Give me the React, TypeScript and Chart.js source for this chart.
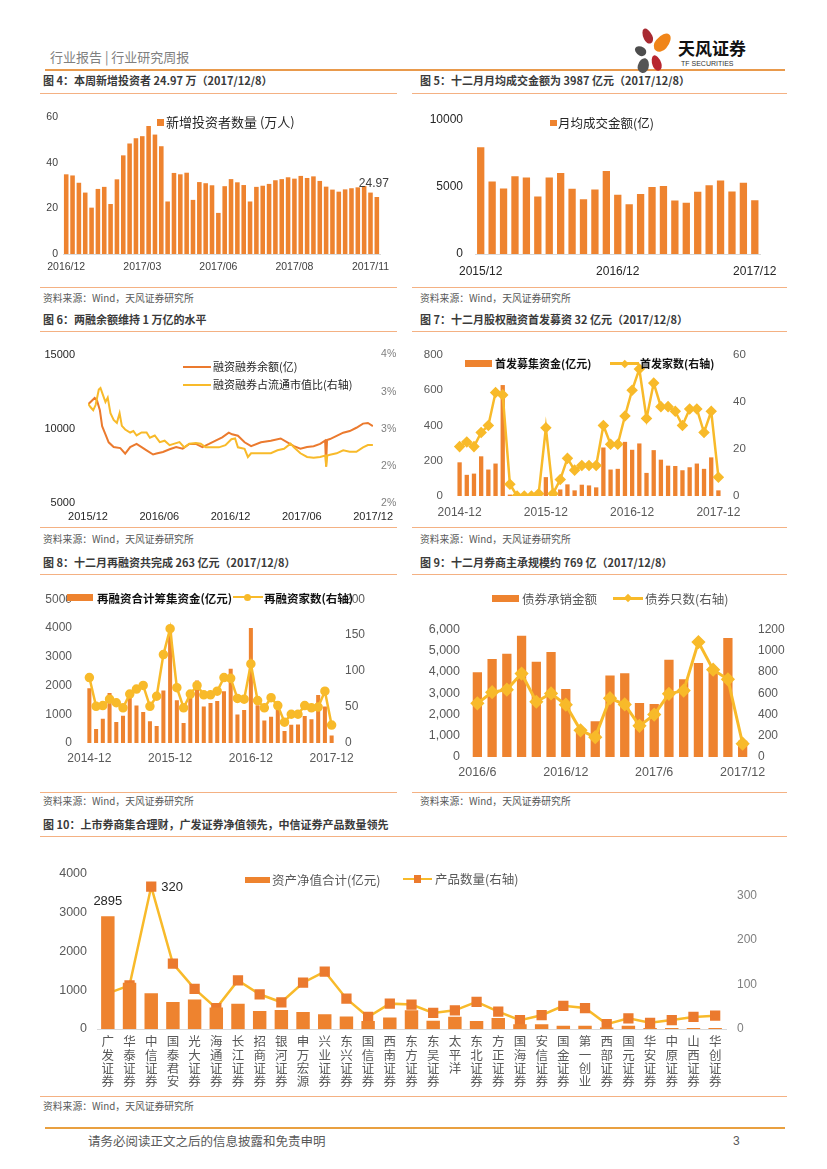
import React, { useEffect, useRef } from 'react';
import { Chart, registerables } from 'chart.js';
Chart.register(...registerables);

const CJK = '"Noto Sans CJK SC", "Noto Sans", sans-serif';
const NUM = '"Liberation Sans", Arial, sans-serif';
const ORANGE = '#EE832F';
const GOLD = '#F8BA2A';
const LINE_OR = '#EB7A2E';
const AXIS = '#D9D9D9';

// ---------------- 图4 本周新增投资者（万人）
const c4Values = [34.9, 34.4, 31.2, 26.9, 20.3, 28.5, 29.4, 21.9, 32.7, 43.2, 48.4, 50.7, 51.6, 56.1, 52.3, 47.2, 23.0, 35.5, 34.9, 35.6, 23.7, 31.5, 31.0, 30.1, 18.0, 29.7, 32.8, 31.4, 30.2, 23.0, 29.4, 29.9, 30.7, 32.3, 32.8, 33.6, 33.0, 34.2, 33.3, 34.0, 32.0, 29.5, 28.2, 27.3, 28.3, 28.8, 29.2, 29.8, 26.9, 24.97];
const c4TickIdx = [0, 12, 24, 36, 48];
const c4TickLabels = ['2016/12', '2017/03', '2017/06', '2017/08', '2017/11'];
const c4YTicks = [0, 20, 40, 60];

// ---------------- 图5 月均成交金额（亿）
const c5Values = [7919, 5383, 4856, 5766, 5670, 4258, 5670, 6005, 4833, 4067, 4785, 6148, 4402, 3684, 4450, 4976, 5048, 3971, 3804, 4617, 5096, 5455, 4641, 5287, 3987];
const c5TickIdx = [0, 12, 24];
const c5TickLabels = ['2015/12', '2016/12', '2017/12'];
const c5YTicks = [0, 5000, 10000];

// ---------------- 图6 两融余额 [月序, 值]
const c6Balance = [[0, 11640], [0.56, 12080], [0.76, 11900], [1.0, 11250], [1.19, 10180], [1.47, 9630], [1.74, 9090], [2.16, 8770], [2.72, 8700], [3.13, 8330], [3.55, 8770], [4.09, 8980], [4.51, 8770], [4.93, 8550], [5.48, 8270], [5.76, 8330], [6.31, 8440], [6.87, 8620], [7.42, 8770], [7.97, 8660], [8.53, 8980], [9.08, 8980], [9.63, 8770], [10.19, 8980], [10.74, 9200], [11.3, 9420], [11.85, 9740], [12.13, 9630], [12.62, 9530], [13.18, 9090], [13.73, 8830], [14.56, 9090], [15.39, 9200], [16.22, 9350], [16.78, 9090], [17.33, 8830], [17.88, 8660], [18.44, 8770], [18.99, 8830], [19.54, 8980], [19.96, 9200], [20.04, 7470], [20.12, 9250], [20.37, 9310], [20.93, 9530], [21.48, 9740], [22.03, 9850], [22.59, 10070], [23.15, 10350], [23.56, 10390], [23.98, 10180]];
const c6Ratio = [[0, 2.94], [0.22, 2.89], [0.44, 2.85], [0.64, 2.92], [0.91, 3.13], [1.05, 3.15], [1.27, 3.05], [1.47, 2.96], [1.66, 3.02], [1.89, 2.81], [2.16, 2.72], [2.43, 2.68], [2.66, 2.81], [2.85, 2.64], [3.13, 2.59], [3.55, 2.55], [3.82, 2.57], [4.09, 2.51], [4.51, 2.55], [4.93, 2.55], [5.21, 2.48], [5.62, 2.51], [6.04, 2.42], [6.45, 2.44], [6.87, 2.38], [7.28, 2.4], [7.7, 2.42], [8.11, 2.35], [8.53, 2.4], [9.08, 2.41], [9.49, 2.4], [9.91, 2.35], [10.47, 2.35], [11.02, 2.35], [11.57, 2.38], [12.07, 2.46], [12.38, 2.47], [12.62, 2.35], [13.18, 2.33], [13.46, 2.22], [13.73, 2.27], [14.56, 2.27], [15.39, 2.27], [15.95, 2.31], [16.5, 2.33], [17.05, 2.4], [17.33, 2.35], [17.88, 2.27], [18.44, 2.22], [18.99, 2.21], [19.54, 2.22], [19.98, 2.24], [20.05, 2.09], [20.14, 2.24], [20.37, 2.25], [20.93, 2.27], [21.48, 2.31], [22.03, 2.29], [22.59, 2.29], [23.15, 2.35], [23.56, 2.38], [23.98, 2.38]];
const c6XTicks = [0, 6, 12, 18, 24];
const c6XTickLabels = ['2015/12', '2016/06', '2016/12', '2017/06', '2017/12'];
const c6LeftTicks = [5000, 10000, 15000];
const c6RightTicks = [1.6, 2.1, 2.6, 3.1, 3.6];
const c6RightTickLabels = ['2%', '2%', '3%', '3%', '4%'];

// ---------------- 图7 首发募集资金 / 首发家数
const c7Amount = [191, 120, 127, 225, 150, 184, 629, 8, 0, 0, 0, 0, 107, 2, 37, 66, 32, 64, 60, 49, 275, 150, 154, 307, 262, 298, 131, 260, 206, 172, 170, 146, 163, 184, 154, 219, 32];
const c7Count = [21, 23, 21, 27, 30, 44, 43, 5, 0, 0, 0, 1, 29, 1, 7, 16, 11, 13, 13, 13, 30, 22, 22, 34, 45, 54, 33, 48, 38, 38, 36, 30, 37, 37, 27, 36, 8];
const c7TickIdx = [0, 12, 24, 36];
const c7TickLabels = ['2014-12', '2015-12', '2016-12', '2017-12'];
const c7LeftTicks = [0, 200, 400, 600, 800];
const c7RightTicks = [0, 20, 40, 60];

// ---------------- 图8 再融资
const c8Amount = [1903, 484, 839, 1742, 731, 946, 1667, 1301, 1075, 753, 591, 1828, 4011, 1484, 699, 1667, 2172, 1269, 1387, 1462, 1796, 2581, 989, 1151, 4000, 1312, 785, 914, 1237, 419, 634, 645, 935, 828, 1667, 1269, 263];
const c8Count = [91, 51, 52, 61, 56, 49, 68, 75, 80, 51, 65, 123, 159, 77, 49, 68, 80, 67, 67, 72, 91, 90, 62, 61, 110, 59, 49, 63, 52, 29, 40, 40, 52, 49, 50, 72, 25];
const c8TickIdx = [0, 12, 24, 36];
const c8TickLabels = ['2014-12', '2015-12', '2016-12', '2017-12'];
const c8LeftTicks = [0, 1000, 2000, 3000, 4000, 5000];
const c8RightTicks = [0, 50, 100, 150, 200];

// ---------------- 图9 债券承销
const c9Amount = [3988, 4607, 4864, 5710, 4486, 4940, 3202, 1360, 1677, 3837, 3943, 2538, 2492, 4577, 3656, 4426, 4184, 5604, 769];
const c9Count = [505, 610, 634, 785, 520, 598, 492, 251, 187, 553, 495, 293, 399, 595, 625, 1082, 822, 731, 125];
const c9TickIdx = [0, 6, 12, 18];
const c9TickLabels = ['2016/6', '2016/12', '2017/6', '2017/12'];
const c9LeftTicks = [0, 1000, 2000, 3000, 4000, 5000, 6000];
const c9RightTicks = [0, 200, 400, 600, 800, 1000, 1200];

// ---------------- 图10 集合理财
const c10Names = ['广发证券', '华泰证券', '中信证券', '国泰君安', '光大证券', '海通证券', '长江证券', '招商证券', '银河证券', '申万宏源', '兴业证券', '东兴证券', '国信证券', '西南证券', '东方证券', '东吴证券', '太平洋', '东北证券', '方正证券', '国海证券', '安信证券', '国金证券', '第一创业', '西部证券', '国元证券', '华安证券', '中原证券', '山西证券', '华创证券'];
const c10Assets = [2895, 1190, 920, 690, 755, 550, 650, 460, 485, 435, 378, 320, 205, 296, 480, 213, 312, 205, 280, 123, 123, 82, 82, 41, 82, 25, 25, 25, 25];
const c10Products = [80, 98, 320, 147, 90, 47, 109, 78, 60, 104, 129, 68, 27, 57, 55, 36, 42, 61, 39, 20, 31, 52, 47, 11, 24, 14, 20, 27, 30];
const c10LeftTicks = [0, 1000, 2000, 3000, 4000];
const c10RightTicks = [0, 100, 200, 300];

// ---------------- helpers
type Box = { cx: number; cy: number; cw: number; ch: number; l: number; r: number; t: number; b: number };

const sparse = (n: number, idx: number[], lbl: string[]) =>
  Array.from({ length: n }, (_, i) => {
    const k = idx.indexOf(i);
    return k >= 0 ? lbl[k] : '';
  });

const mkY = (b: Box, side: string, min: number, max: number, ticks: number[], fmt: (v: number, i: number) => string, size: number, color: string, pad: number) => ({
  type: 'linear',
  position: side,
  min,
  max,
  grid: { display: false, drawTicks: false },
  border: { display: false },
  afterFit: (s: any) => {
    s.width = side === 'left' ? b.l - b.cx : b.cx + b.cw - b.r;
  },
  afterBuildTicks: (s: any) => {
    s.ticks = ticks.map((v) => ({ value: v }));
  },
  ticks: { padding: pad, color, font: { family: NUM, size }, callback: (v: any, i: number) => fmt(Number(v), i) },
});

const mkXCat = (b: Box, size: number, color: string, pad: number, border: boolean, family = NUM, lineHeight = 1.2) => ({
  type: 'category',
  offset: true,
  grid: { display: false, drawTicks: false },
  border: border ? { display: true, color: AXIS, width: 1 } : { display: false },
  afterFit: (s: any) => {
    s.height = b.cy + b.ch - b.b;
  },
  ticks: { autoSkip: false, maxRotation: 0, minRotation: 0, padding: pad, color, font: { family, size, lineHeight } },
});

const base = (b: Box, hasRight: boolean) => ({
  responsive: false,
  animation: false,
  layout: { padding: { top: b.t - b.cy, left: 0, bottom: 0, right: hasRight ? 0 : b.cx + b.cw - b.r } },
  plugins: { legend: { display: false }, tooltip: { enabled: false } },
});

function ChartCanvas({ box, make }: { box: Box; make: () => any }) {
  const ref = useRef<HTMLCanvasElement>(null);
  useEffect(() => {
    const chart = new Chart(ref.current as HTMLCanvasElement, make());
    return () => chart.destroy();
  }, []);
  return (
    <canvas
      ref={ref}
      width={box.cw}
      height={box.ch}
      style={{ position: 'absolute', left: box.cx, top: box.cy, width: box.cw, height: box.ch }}
    />
  );
}

// ---------------- boxes
const B4: Box = { cx: 40, cy: 100, cw: 360, ch: 185, l: 63, r: 380, t: 117, b: 254 };
const B5: Box = { cx: 412, cy: 100, cw: 375, ch: 185, l: 475, r: 762, t: 115, b: 254 };
const B6: Box = { cx: 40, cy: 335, cw: 360, ch: 190, l: 88, r: 377, t: 349, b: 503 };
const B7: Box = { cx: 412, cy: 335, cw: 375, ch: 190, l: 456, r: 722, t: 353, b: 496 };
const B8: Box = { cx: 40, cy: 578, cw: 360, ch: 195, l: 86, r: 335, t: 588, b: 743 };
const B9: Box = { cx: 412, cy: 612, cw: 375, ch: 172, l: 470, r: 750, t: 624, b: 757 };
const B10: Box = { cx: 40, cy: 855, cw: 750, ch: 238, l: 97, r: 726, t: 867, b: 1029 };

const make4 = () => ({
  type: 'bar',
  data: {
    labels: sparse(c4Values.length, c4TickIdx, c4TickLabels),
    datasets: [{ data: c4Values, backgroundColor: ORANGE, barPercentage: 0.72, categoryPercentage: 1 }],
  },
  options: {
    ...base(B4, false),
    scales: {
      x: mkXCat(B4, 10.5, '#404040', 7, true),
      y: mkY(B4, 'left', 0, 60, c4YTicks, (v) => String(v), 10.5, '#404040', 5),
    },
  },
  plugins: [
    {
      id: 'c4lbl',
      afterDatasetsDraw(chart: any) {
        const i = c4Values.length - 1;
        const el = chart.getDatasetMeta(0).data[i];
        const ctx = chart.ctx;
        ctx.save();
        ctx.font = `12px ${NUM}`;
        ctx.fillStyle = '#404040';
        ctx.textAlign = 'center';
        ctx.textBaseline = 'middle';
        ctx.fillText(c4Values[i].toFixed(2), el.x - 3, el.y - 13);
        ctx.restore();
      },
    },
  ],
});

const make5 = () => ({
  type: 'bar',
  data: {
    labels: sparse(c5Values.length, c5TickIdx, c5TickLabels),
    datasets: [{ data: c5Values, backgroundColor: ORANGE, barPercentage: 0.64, categoryPercentage: 1 }],
  },
  options: {
    ...base(B5, false),
    scales: {
      x: mkXCat(B5, 12, '#262626', 10, true),
      y: mkY(B5, 'left', 0, 10000, c5YTicks, (v) => String(v), 12, '#262626', 12),
    },
  },
});

const make6 = () => ({
  type: 'line',
  data: {
    datasets: [
      { data: c6Ratio.map(([x, y]) => ({ x, y })), yAxisID: 'y1', borderColor: GOLD, borderWidth: 2, pointRadius: 0, tension: 0 },
      { data: c6Balance.map(([x, y]) => ({ x, y })), yAxisID: 'y', borderColor: LINE_OR, borderWidth: 2, pointRadius: 0, tension: 0 },
    ],
  },
  options: {
    ...base(B6, true),
    scales: {
      x: {
        type: 'linear',
        min: 0,
        max: 24,
        grid: { display: false, drawTicks: false },
        border: { display: false },
        afterFit: (s: any) => {
          s.height = B6.cy + B6.ch - B6.b;
        },
        afterBuildTicks: (s: any) => {
          s.ticks = c6XTicks.map((v) => ({ value: v }));
        },
        ticks: { padding: 7, color: '#262626', maxRotation: 0, font: { family: NUM, size: 11 }, callback: (_v: any, i: number) => c6XTickLabels[i] },
      },
      y: mkY(B6, 'left', 5000, 15000, c6LeftTicks, (v) => String(v), 11, '#262626', 13),
      y1: mkY(B6, 'right', 1.6, 3.6, c6RightTicks, (_v, i) => c6RightTickLabels[i], 10.5, '#7F7F7F', 8),
    },
  },
});

const make7 = () => ({
  type: 'bar',
  data: {
    labels: sparse(c7Amount.length, c7TickIdx, c7TickLabels),
    datasets: [
      { type: 'line', data: c7Count, yAxisID: 'y1', order: 0, borderColor: GOLD, borderWidth: 2.5, pointStyle: 'rectRot', pointRadius: 4, pointBackgroundColor: GOLD, pointBorderColor: GOLD, tension: 0 },
      { type: 'bar', data: c7Amount, yAxisID: 'y', order: 1, backgroundColor: ORANGE, barPercentage: 0.6, categoryPercentage: 1 },
    ],
  },
  options: {
    ...base(B7, true),
    scales: {
      x: mkXCat(B7, 12, '#595959', 9, false),
      y: mkY(B7, 'left', 0, 800, c7LeftTicks, (v) => String(v), 11.5, '#595959', 13),
      y1: mkY(B7, 'right', 0, 60, c7RightTicks, (v) => String(v), 11.5, '#595959', 11),
    },
  },
});

const make8 = () => ({
  type: 'bar',
  data: {
    labels: sparse(c8Amount.length, c8TickIdx, c8TickLabels),
    datasets: [
      { type: 'line', data: c8Count, yAxisID: 'y1', order: 0, borderColor: GOLD, borderWidth: 2.5, pointStyle: 'circle', pointRadius: 3.5, pointBackgroundColor: GOLD, pointBorderColor: GOLD, tension: 0 },
      { type: 'bar', data: c8Amount, yAxisID: 'y', order: 1, backgroundColor: ORANGE, barPercentage: 0.6, categoryPercentage: 1 },
    ],
  },
  options: {
    ...base(B8, true),
    scales: {
      x: mkXCat(B8, 12, '#595959', 8, false),
      y: mkY(B8, 'left', 0, 5000, c8LeftTicks, (v) => String(v), 12, '#595959', 14),
      y1: mkY(B8, 'right', 0, 200, c8RightTicks, (v) => String(v), 12, '#595959', 10),
    },
  },
});

const make9 = () => ({
  type: 'bar',
  data: {
    labels: sparse(c9Amount.length, c9TickIdx, c9TickLabels),
    datasets: [
      { type: 'line', data: c9Count, yAxisID: 'y1', order: 0, borderColor: GOLD, borderWidth: 3, pointStyle: 'rectRot', pointRadius: 5, pointBackgroundColor: GOLD, pointBorderColor: GOLD, tension: 0 },
      { type: 'bar', data: c9Amount, yAxisID: 'y', order: 1, backgroundColor: ORANGE, barPercentage: 0.63, categoryPercentage: 1 },
    ],
  },
  options: {
    ...base(B9, true),
    scales: {
      x: mkXCat(B9, 12.5, '#595959', 8, false),
      y: mkY(B9, 'left', 0, 6000, c9LeftTicks, (v) => v.toLocaleString('en-US'), 12.5, '#595959', 10),
      y1: mkY(B9, 'right', 0, 1200, c9RightTicks, (v) => String(v), 12, '#595959', 8),
    },
  },
});

const make10 = () => ({
  type: 'bar',
  data: {
    labels: c10Names.map((n) => n.split('')),
    datasets: [
      { type: 'bar', data: c10Assets, yAxisID: 'y', order: 0, backgroundColor: ORANGE, barPercentage: 0.62, categoryPercentage: 1 },
      { type: 'line', data: c10Products, yAxisID: 'y1', order: 1, borderColor: GOLD, borderWidth: 2.5, pointStyle: 'rect', pointRadius: 5.5, pointBackgroundColor: LINE_OR, pointBorderColor: LINE_OR, tension: 0 },
    ],
  },
  options: {
    ...base(B10, true),
    scales: {
      x: mkXCat(B10, 12.5, '#595959', 6, true, CJK, 1.06),
      y: mkY(B10, 'left', 0, 4000, c10LeftTicks, (v) => String(v), 12.5, '#595959', 10),
      y1: mkY(B10, 'right', 0, 350, c10RightTicks, (v) => String(v), 12, '#7F7F7F', 11),
    },
  },
  plugins: [
    {
      id: 'c10lbl',
      afterDatasetsDraw(chart: any) {
        const ctx = chart.ctx;
        const bar = chart.getDatasetMeta(0).data[0];
        const pt = chart.getDatasetMeta(1).data[2];
        ctx.save();
        ctx.font = `13px ${NUM}`;
        ctx.fillStyle = '#262626';
        ctx.textBaseline = 'middle';
        ctx.textAlign = 'center';
        ctx.fillText(String(c10Assets[0]), bar.x, bar.y - 15);
        ctx.textAlign = 'left';
        ctx.fillText(String(c10Products[2]), pt.x + 10, pt.y + 1);
        ctx.restore();
      },
    },
  ],
});

// ---------------- HTML helpers
const T = ({ x, y, s, c = '#333', b = false, f = CJK, children }: any) => (
  <div
    style={{
      position: 'absolute',
      left: x,
      top: y - s * 0.7,
      fontSize: s,
      lineHeight: `${s * 1.4}px`,
      color: c,
      fontWeight: b ? 700 : 400,
      fontFamily: f,
      whiteSpace: 'nowrap',
    }}
  >
    {children}
  </div>
);

const Rect = ({ x, y, w, h, c }: any) => <div style={{ position: 'absolute', left: x, top: y, width: w, height: h, background: c }} />;

const HLine = ({ x1, x2, y, c, t = 1 }: any) => <div style={{ position: 'absolute', left: x1, top: y - t / 2, width: x2 - x1, height: t, background: c }} />;

const Marker = ({ x, y, kind, size, c }: any) => {
  const st: any = { position: 'absolute', left: x - size / 2, top: y - size / 2, width: size, height: size, background: c };
  if (kind === 'circle') st.borderRadius = '50%';
  if (kind === 'diamond') st.transform = 'rotate(45deg)';
  return <div style={st} />;
};

const Petal = ({ x, y, w, h, rot, c }: any) => (
  <div style={{ position: 'absolute', left: x - w / 2, top: y - h / 2, width: w, height: h, borderRadius: '50% 50% 50% 50% / 60% 60% 40% 40%', background: c, transform: `rotate(${rot}deg)` }} />
);

const SEC = '#F4B183';
const TITLE_C = '#3A3A3A';
const SRC_C = '#595959';

export default function App() {
  return (
    <div style={{ position: 'absolute', left: 0, top: 0, width: 827, height: 1169, background: '#fff', overflow: 'hidden', fontFamily: CJK }}>
      {/* header */}
      <T x={50} y={57} s={13} c="#7F7F7F">行业报告 | 行业研究周报</T>
      <HLine x1={45} x2={785} y={70} c="#E99A4C" t={1.5} />
      <Petal x={647} y={36} w={9} h={16} rot={-25} c="#A82A32" />
      <Petal x={662} y={42} w={13} h={21} rot={40} c="#F08519" />
      <Petal x={640} y={51} w={9} h={12} rot={-60} c="#4D4D4D" />
      <Petal x={643} y={65} w={11} h={15} rot={15} c="#555555" />
      <Petal x={656} y={63} w={9} h={16} rot={-20} c="#B8262F" />
      <T x={678} y={48} s={17} c="#111" b>天风证券</T>
      <T x={681} y={64} s={7} c="#333" f={NUM}>TF SECURITIES</T>

      {/* titles & section lines */}
      <T x={43} y={81} s={11} c={TITLE_C} b>图 4：本周新增投资者 24.97 万（2017/12/8）</T>
      <T x={420} y={81} s={11} c={TITLE_C} b>图 5：十二月月均成交金额为 3987 亿元（2017/12/8）</T>
      <HLine x1={40} x2={397} y={93} c={SEC} />
      <HLine x1={412} x2={787} y={93} c={SEC} />
      <HLine x1={40} x2={397} y={287} c={SEC} />
      <HLine x1={412} x2={787} y={287} c={SEC} />
      <T x={43} y={299} s={9.8} c={SRC_C}>资料来源：Wind，天风证券研究所</T>
      <T x={420} y={299} s={9.8} c={SRC_C}>资料来源：Wind，天风证券研究所</T>

      <T x={43} y={320} s={11} c={TITLE_C} b>图 6：两融余额维持 1 万亿的水平</T>
      <T x={420} y={320} s={11} c={TITLE_C} b>图 7：十二月股权融资首发募资 32 亿元（2017/12/8）</T>
      <HLine x1={40} x2={397} y={331} c={SEC} />
      <HLine x1={412} x2={787} y={331} c={SEC} />
      <HLine x1={40} x2={397} y={527} c={SEC} />
      <HLine x1={412} x2={787} y={527} c={SEC} />
      <T x={43} y={540} s={9.8} c={SRC_C}>资料来源：Wind，天风证券研究所</T>
      <T x={420} y={540} s={9.8} c={SRC_C}>资料来源：Wind，天风证券研究所</T>

      <T x={43} y={563} s={11} c={TITLE_C} b>图 8：十二月再融资共完成 263 亿元（2017/12/8）</T>
      <T x={420} y={563} s={11} c={TITLE_C} b>图 9：十二月券商主承规模约 769 亿（2017/12/8）</T>
      <HLine x1={40} x2={397} y={574} c={SEC} />
      <HLine x1={412} x2={787} y={574} c={SEC} />
      <HLine x1={40} x2={397} y={792} c={SEC} />
      <HLine x1={412} x2={787} y={792} c={SEC} />
      <T x={43} y={802} s={9.8} c={SRC_C}>资料来源：Wind，天风证券研究所</T>
      <T x={420} y={802} s={9.8} c={SRC_C}>资料来源：Wind，天风证券研究所</T>

      <T x={43} y={825} s={11} c={TITLE_C} b>图 10：上市券商集合理财，广发证券净值领先，中信证券产品数量领先</T>
      <HLine x1={40} x2={787} y={836} c={SEC} />
      <HLine x1={40} x2={787} y={1096} c={SEC} />
      <T x={43} y={1107} s={9.8} c={SRC_C}>资料来源：Wind，天风证券研究所</T>

      {/* charts */}
      <ChartCanvas box={B4} make={make4} />
      <ChartCanvas box={B5} make={make5} />
      <ChartCanvas box={B6} make={make6} />
      <ChartCanvas box={B7} make={make7} />
      <ChartCanvas box={B8} make={make8} />
      <ChartCanvas box={B9} make={make9} />
      <ChartCanvas box={B10} make={make10} />

      {/* legends */}
      <Rect x={157} y={118.5} w={7} h={7} c={ORANGE} />
      <T x={166} y={122} s={13} c="#262626">新增投资者数量 (万人)</T>

      <Rect x={550} y={119.5} w={6.5} h={6.5} c={ORANGE} />
      <T x={558} y={122.5} s={12.5} c="#262626">月均成交金额(亿)</T>

      <HLine x1={183} x2={211} y={367} c={LINE_OR} t={2.5} />
      <T x={213} y={367} s={11} c="#262626">融资融券余额(亿)</T>
      <HLine x1={183} x2={211} y={385} c={GOLD} t={2.5} />
      <T x={213} y={385} s={11} c="#262626">融资融券占流通市值比(右轴)</T>

      <Rect x={465} y={359.5} w={27} h={7.5} c={ORANGE} />
      <T x={495} y={363.3} s={11} c="#111" b>首发募集资金(亿元)</T>
      <HLine x1={610} x2={639} y={363.3} c={GOLD} t={2.5} />
      <Marker x={625} y={363.3} kind="diamond" size={5.5} c={GOLD} />
      <T x={640} y={363.3} s={11} c="#111" b>首发家数(右轴)</T>

      <Rect x={67} y={594} w={26} h={7} c={ORANGE} />
      <T x={97} y={597.7} s={11.5} c="#111" b>再融资合计筹集资金(亿元)</T>
      <HLine x1={233} x2={263} y={597} c={GOLD} t={2.5} />
      <Marker x={247.5} y={597} kind="circle" size={7} c={GOLD} />
      <T x={264} y={597.7} s={11.5} c="#111" b>再融资家数(右轴)</T>

      <Rect x={492} y={595} w={26.5} h={6.5} c={ORANGE} />
      <T x={522} y={598.3} s={12.5} c="#595959">债券承销金额</T>
      <HLine x1={613} x2={643} y={598.3} c={GOLD} t={2.5} />
      <Marker x={628.3} y={598.3} kind="diamond" size={6} c={GOLD} />
      <T x={645} y={598.3} s={12.5} c="#595959">债券只数(右轴)</T>

      <Rect x={245} y={877} w={25} h={6} c={ORANGE} />
      <T x={272} y={880} s={12.5} c="#595959">资产净值合计(亿元)</T>
      <HLine x1={403} x2={432} y={879} c={GOLD} t={2.5} />
      <Marker x={417.5} y={879} kind="square" size={7.5} c={LINE_OR} />
      <T x={435} y={879} s={12.5} c="#595959">产品数量(右轴)</T>

      {/* footer */}
      <HLine x1={45} x2={785} y={1128} c="#E9A040" t={2} />
      <T x={88} y={1141} s={12.5} c="#595959">请务必阅读正文之后的信息披露和免责申明</T>
      <T x={733} y={1141} s={12} c="#595959" f={NUM}>3</T>
    </div>
  );
}
